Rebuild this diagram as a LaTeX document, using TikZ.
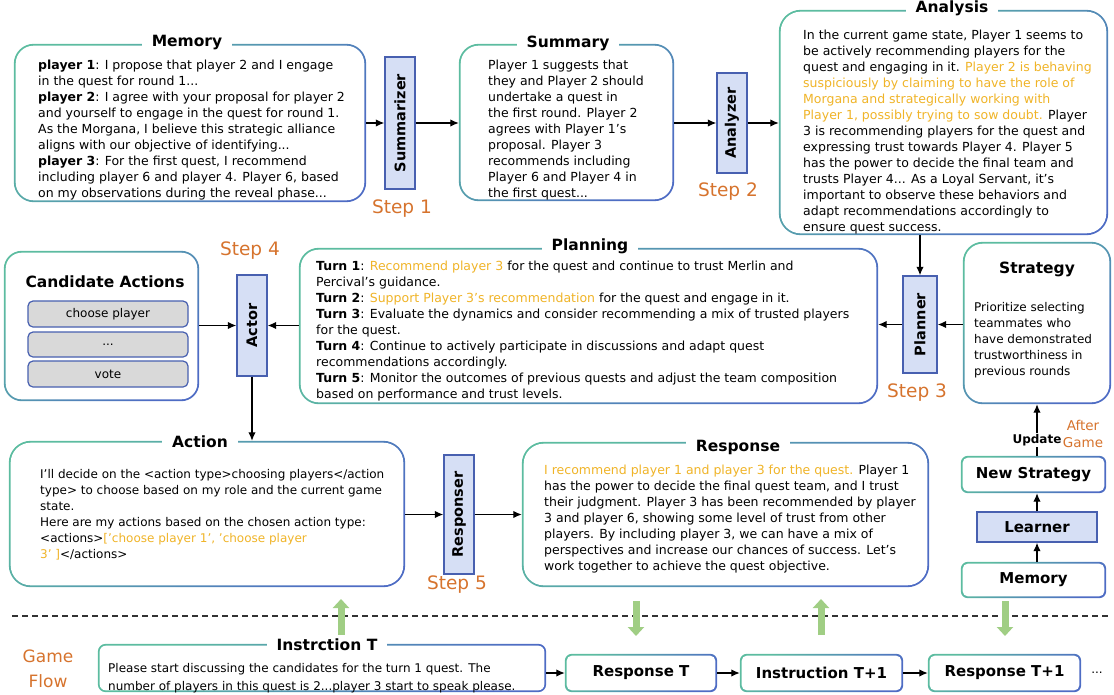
\documentclass[tikz,border=0pt]{standalone}
\usepackage{fontspec}
\setmainfont{DejaVu Sans}
\usetikzlibrary{arrows.meta,backgrounds,calc}
\definecolor{tealc}{RGB}{92,188,160}
\definecolor{bluec}{RGB}{78,108,196}
\definecolor{agentfill}{RGB}{214,223,245}
\definecolor{agentdraw}{RGB}{72,96,176}
\definecolor{hlc}{RGB}{240,180,40}
\definecolor{stepc}{RGB}{214,115,45}
\definecolor{grayfill}{RGB}{217,217,217}
\definecolor{greenarr}{RGB}{160,206,132}
\newcommand\yel[1]{\textcolor{hlc}{#1}}
\newcommand\gframe[3]{%
  \shade[top color=tealc, bottom color=bluec, shading angle=45, rounded corners=#2] (#1.north west) rectangle (#1.south east);
  \fill[white, rounded corners=#3] ([shift={(1.9,1.9)}]#1.north west) rectangle ([shift={(-1.9,-1.9)}]#1.south east);}
\tikzset{
  box/.style={inner sep=0pt},
  smallbox/.style={inner sep=0pt, font=\bfseries\fontsize{15}{18}\selectfont},
  agent/.style={draw=agentdraw, fill=agentfill, line width=1.4pt, inner sep=0pt},
  agentlabel/.style={rotate=90, font=\bfseries\fontsize{14.5}{17}\selectfont},
  title/.style={fill=white, inner xsep=10pt, inner ysep=1pt, font=\bfseries\fontsize{15.5}{18}\selectfont},
  body/.style={anchor=north west, inner sep=0pt, align=left, font=\fontsize{12.5}{16}\selectfont},
  steplabel/.style={text=stepc, font=\fontsize{18.5}{20}\selectfont},
  arr/.style={-{Latex[length=8.5pt,width=7.5pt]}, line width=1.3pt},
  garr/.style={line width=7pt, draw=greenarr, -{Triangle[length=9pt,width=16pt]}},
  candbox/.style={draw=agentdraw, fill=grayfill, rounded corners=5pt, line width=1.2pt, minimum width=160pt, inner sep=0pt, font=\fontsize{12}{14}\selectfont},
  dashline/.style={dash pattern=on 6pt off 4pt, line width=1.2pt, draw=black!80},
}
\begin{document}
\begin{tikzpicture}[x=1pt,y=-1pt]
\useasboundingbox (0,0) rectangle (1114,694);

% frame nodes
\node[box, minimum width=352pt, minimum height=158pt] (mem) at (190,123) {};
\node[box, minimum width=215pt, minimum height=157pt] (summary) at (566.5,122.5) {};
\node[box, minimum width=329pt, minimum height=225pt] (analysis) at (943.5,122.5) {};
\node[box, minimum width=195pt, minimum height=150pt] (cand) at (101.5,326) {};
\node[box, minimum width=579pt, minimum height=156pt] (planning) at (588.5,326) {};
\node[box, minimum width=148pt, minimum height=162pt] (strategy) at (1037,323) {};
\node[box, minimum width=396pt, minimum height=146pt] (action) at (207,514) {};
\node[box, minimum width=407pt, minimum height=145pt] (response) at (725.5,514.5) {};
\node[smallbox, minimum width=145pt, minimum height=37pt] (newstrat) at (1033.5,474.5) {New Strategy};
\node[smallbox, minimum width=145pt, minimum height=36pt] (mem2) at (1033.5,580) {Memory};
\node[box, minimum width=448pt, minimum height=48pt] (instr) at (322,668) {};
\node[smallbox, minimum width=152pt, minimum height=38pt] (respT) at (641,673) {Response T};
\node[smallbox, minimum width=163pt, minimum height=38pt] (instrT1) at (821.5,673) {Instruction T+1};
\node[smallbox, minimum width=153pt, minimum height=38pt] (respT1) at (1004.5,673) {Response T+1};

\begin{scope}[on background layer]
\gframe{mem}{20pt}{18pt}
\gframe{summary}{20pt}{18pt}
\gframe{analysis}{22pt}{20pt}
\gframe{cand}{18pt}{16pt}
\gframe{planning}{20pt}{18pt}
\gframe{strategy}{20pt}{18pt}
\gframe{action}{22pt}{20pt}
\gframe{response}{22pt}{20pt}
\gframe{newstrat}{7pt}{5pt}
\gframe{mem2}{7pt}{5pt}
\gframe{instr}{8pt}{6pt}
\gframe{respT}{7pt}{5pt}
\gframe{instrT1}{7pt}{5pt}
\gframe{respT1}{7pt}{5pt}
\end{scope}

% titles
\node[title] (memT) at (187,43) {Memory};
\node[title] (sumT) at (568,43) {Summary};
\node[title] (anaT) at (952,8) {Analysis};
\node[title] (planT) at (590,246) {Planning};
\node[title] (actT) at (200,442) {Action};
\node[title] (resT) at (738,447) {Response};
\node[title] (insT) at (327,645) {Instrction T};
\node[title, fill=none] (candT) at (105,282) {Candidate Actions};
\node[title, fill=none] (stratT) at (1037,269) {Strategy};

% body texts
\node[body] (memtxt) at (38,57.8) {\strut\textbf{player 1}: I propose that player 2 and I engage\\
in the quest for round 1...\\
\textbf{player 2}: I agree with your proposal for player 2\\
and yourself to engage in the quest for round 1.\\
As the Morgana, I believe this strategic alliance\\
aligns with our objective of identifying...\\
\textbf{player 3}: For the first quest, I recommend\\
including player 6 and player 4. Player 6, based\\
on my observations during the reveal phase...};

\node[body] (sumtxt) at (488,57.8) {\strut Player 1 suggests that\\
they and Player 2 should\\
undertake a quest in\\
the first round. Player 2\\
agrees with Player 1's\\
proposal. Player 3\\
recommends including\\
Player 6 and Player 4 in\\
the first quest...};

\node[body] (anatxt) at (803,27.8) {\strut In the current game state, Player 1 seems to\\
be actively recommending players for the\\
quest and engaging in it. \yel{Player 2 is behaving}\\
\yel{suspiciously by claiming to have the role of}\\
\yel{Morgana and strategically working with}\\
\yel{Player 1, possibly trying to sow doubt.} Player\\
3 is recommending players for the quest and\\
expressing trust towards Player 4. Player 5\\
has the power to decide the final team and\\
trusts Player 4... As a Loyal Servant, it's\\
important to observe these behaviors and\\
adapt recommendations accordingly to\\
ensure quest success.};

\node[body] (plantxt) at (316,258.8) {\strut\textbf{Turn 1}: \yel{Recommend player 3} for the quest and continue to trust Merlin and\\
Percival's guidance.\\
\textbf{Turn 2}: \yel{Support Player 3's recommendation} for the quest and engage in it.\\
\textbf{Turn 3}: Evaluate the dynamics and consider recommending a mix of trusted players\\
for the quest.\\
\textbf{Turn 4}: Continue to actively participate in discussions and adapt quest\\
recommendations accordingly.\\
\textbf{Turn 5}: Monitor the outcomes of previous quests and adjust the team composition\\
based on performance and trust levels.};

\node[body, font=\fontsize{12}{16}\selectfont] (strattxt) at (974,299.8) {\strut Prioritize selecting\\
teammates who\\
have demonstrated\\
trustworthiness in\\
previous rounds};

\node[body, font=\fontsize{12}{16}\selectfont] (acttxt) at (40,466.8) {\strut I'll decide on the <action type>choosing players</action\\
type> to choose based on my role and the current game\\
state.\\
Here are my actions based on the chosen action type:\\
<actions>\yel{['choose player 1', 'choose player}\\
\yel{3' ]}</actions>};

\node[body] (restxt) at (544,462.8) {\strut\yel{I recommend player 1 and player 3 for the quest.} Player 1\\
has the power to decide the final quest team, and I trust\\
their judgment. Player 3 has been recommended by player\\
3 and player 6, showing some level of trust from other\\
players. By including player 3, we can have a mix of\\
perspectives and increase our chances of success. Let's\\
work together to achieve the quest objective.};

\node[body, font=\fontsize{12}{18}\selectfont] (instxt) at (108,659.5) {\strut Please start discussing the candidates for the turn 1 quest. The\\
number of players in this quest is 2...player 3 start to speak please.};

% candidate actions
\node[candbox, minimum height=26pt] (c1) at (108,314) {choose player};
\node[candbox, minimum height=25pt] (c2) at (108,344.5) {...};
\node[candbox, minimum height=26pt] (c3) at (108,374) {vote};

% agents
\node[agent, minimum width=30pt, minimum height=132pt] (sumr) at (400,123) {};
\node[agentlabel] (sumrL) at (sumr) {Summarizer};
\node[agent, minimum width=30pt, minimum height=100pt] (analyzer) at (732,123) {};
\node[agentlabel] (analyzerL) at (analyzer) {Analyzer};
\node[agent, minimum width=34pt, minimum height=97pt] (planner) at (920,324.5) {};
\node[agentlabel] (plannerL) at (planner) {Planner};
\node[agent, minimum width=30pt, minimum height=101pt] (actor) at (252,325.5) {};
\node[agentlabel] (actorL) at (actor) {Actor};
\node[agent, minimum width=30pt, minimum height=119pt] (responser) at (459,514.5) {};
\node[agentlabel] (responserL) at (responser) {Responser};
\node[agent, minimum width=120pt, minimum height=30pt, font=\bfseries\fontsize{15}{18}\selectfont] (learner) at (1037,527) {Learner};

% step labels
\node[steplabel] (s1) at (402,209) {Step 1};
\node[steplabel] (s2) at (728,192) {Step 2};
\node[steplabel] (s3) at (917,393) {Step 3};
\node[steplabel] (s4) at (250,251) {Step 4};
\node[steplabel] (s5) at (457,585) {Step 5};

% connectors
\draw[arr] (mem.east) -- (sumr.west);
\draw[arr] (sumr.east) -- (summary.west |- sumr.east);
\draw[arr] (summary.east |- analyzer.west) -- (analyzer.west);
\draw[arr] (analyzer.east) -- (analysis.west |- analyzer.east);
\draw[arr] (analysis.south -| planner.north) -- (planner.north);
\draw[arr] (strategy.west |- planner.east) -- (planner.east);
\draw[arr] (planner.west) -- (planning.east |- planner.west);
\draw[arr] (planning.west |- actor.east) -- (actor.east);
\draw[arr] (cand.east |- actor.west) -- (actor.west);
\draw[arr] (actor.south) -- (actor.south |- action.north);
\draw[arr] (action.east |- responser.west) -- (responser.west);
\draw[arr] (responser.east) -- (response.west |- responser.east);
\draw[arr] (mem2.north -| learner.south) -- (learner.south);
\draw[arr] (learner.north) -- (learner.north |- newstrat.south);
\draw[arr] (newstrat.north -| learner.north) -- node[pos=0.31, fill=white, inner sep=1pt, font=\bfseries\fontsize{12}{13}\selectfont] (upd) {Update} (strategy.south -| learner.north);
\node[text=stepc, align=center, font=\fontsize{13.5}{17}\selectfont] (ag) at (1083,434) {After\\Game};

\draw[arr] (instr.east |- respT.west) -- (respT.west);
\draw[arr] (respT.east) -- (instrT1.west);
\draw[arr] (instrT1.east) -- (respT1.west);
\node[font=\fontsize{12}{14}\selectfont] (dots) at (1097,673) {...};

% game flow
\node[text=stepc, align=center, font=\fontsize{17}{25}\selectfont] (gf) at (48,669) {Game\\Flow};
\coordinate (d1) at (12,616);
\coordinate (d2) at (1110,616);
\draw[dashline] (d1) -- (d2);
\coordinate (g1s) at (341,635); \coordinate (g1e) at (341,599);
\coordinate (g2s) at (636,601); \coordinate (g2e) at (636,636);
\coordinate (g3s) at (821,635); \coordinate (g3e) at (821,599);
\coordinate (g4s) at (1005,601); \coordinate (g4e) at (1005,636);
\draw[garr] (g1s) -- (g1e);
\draw[garr] (g2s) -- (g2e);
\draw[garr] (g3s) -- (g3e);
\draw[garr] (g4s) -- (g4e);
\end{tikzpicture}
\end{document}
